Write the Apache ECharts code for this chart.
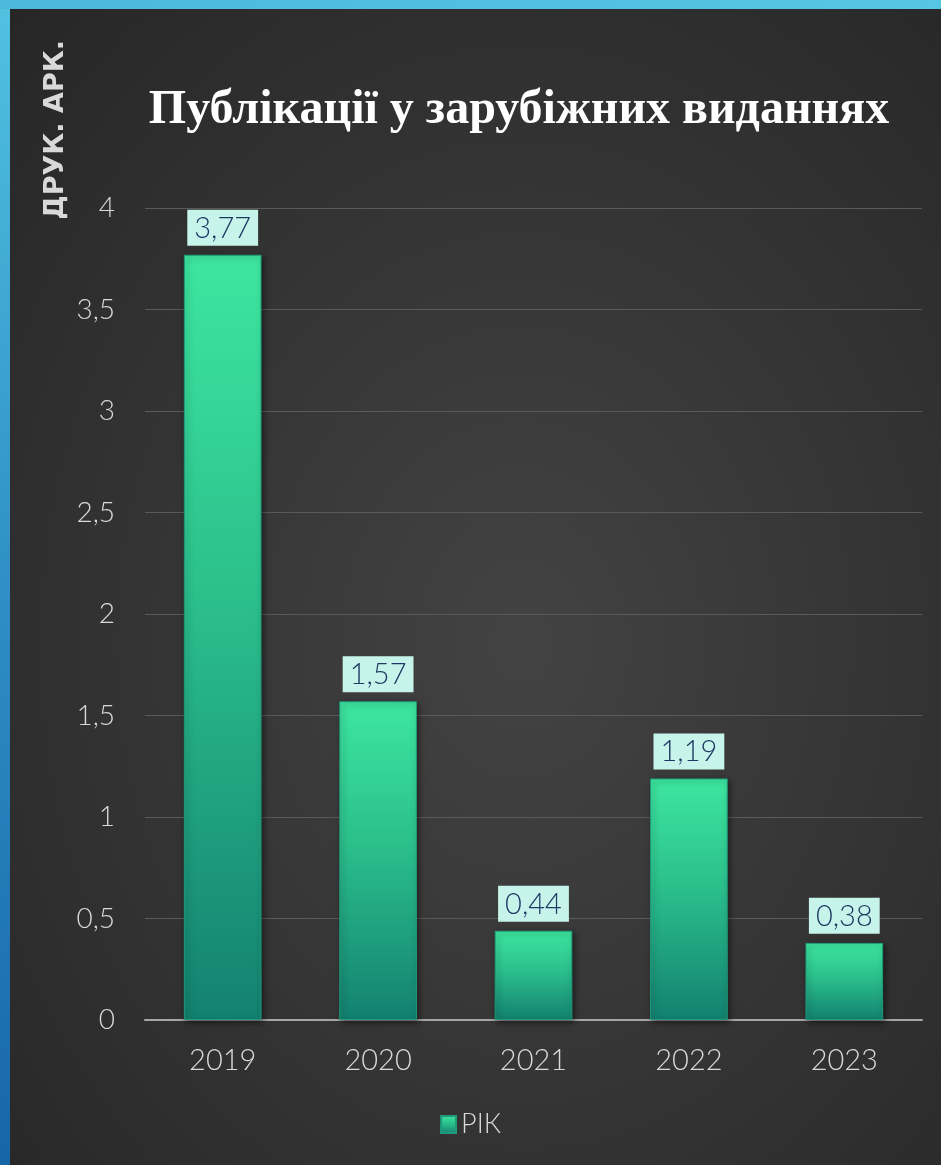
<!DOCTYPE html>
<html><head><meta charset="utf-8">
<script src="https://cdn.jsdelivr.net/npm/echarts@6/dist/echarts.min.js"></script>
<style>
html,body{margin:0;padding:0;width:941px;height:1165px;overflow:hidden;background:#2b2b2b;}
#frame{position:absolute;left:0;top:0;width:941px;height:1165px;
background:linear-gradient(180deg,#50c2e0 0%,#2f8fc6 50%,#1766a6 100%);}
#inner{position:absolute;left:10px;top:9px;right:0;bottom:0;
background:radial-gradient(ellipse at 55% 55%,#434343 0%,#333 55%,#262626 100%);}
#topbar{position:absolute;left:0;top:0;width:941px;height:9px;background:linear-gradient(90deg,#4bb8dc,#55c6e4);}
#chart{position:absolute;left:0;top:0;width:941px;height:1165px;}
</style></head>
<body>
<div id="frame"></div><div id="topbar"></div><div id="inner"></div>
<div id="chart"></div>
<script>
const categories = ['2019','2020','2021','2022','2023'];
const values = [3.77, 1.57, 0.44, 1.19, 0.38];
const yTicks = [0, 0.5, 1, 1.5, 2, 2.5, 3, 3.5, 4];
const seriesName = 'РІК';
const titleText = 'Публікації у зарубіжних виданнях';
const yName = 'ДРУК. АРК.';

const fmt = v => String(v).replace('.', ',');
const barGrad = new echarts.graphic.LinearGradient(0,0,0,1,[
  {offset:0,color:'#3de6a0'},{offset:0.45,color:'#2bbf8c'},{offset:1,color:'#138170'}]);
const chart = echarts.init(document.getElementById('chart'), null, {renderer:'canvas'});
chart.setOption({
  backgroundColor:'transparent',
  title:{text:titleText,left:514,top:82,textAlign:'center',
    textStyle:{fontFamily:'Liberation Serif',fontWeight:'bold',fontSize:48,color:'#ffffff'}},
  graphic:[{type:'text',left:42,top:40,rotation:Math.PI/2,
    style:{text:yName,fill:'#d9d9d9',font:'bold 27px "DejaVu Sans"',textAlign:'right',textVerticalAlign:'top'}}],
  grid:{left:145,right:19,top:208,bottom:145},
  legend:{bottom:22,left:'center',itemWidth:15,itemHeight:17,itemGap:7,
    data:[{name:seriesName,icon:'rect'}],
    textStyle:{color:'#d9d9d9',fontSize:27,fontFamily:'Lato',fontWeight:300}},
  xAxis:{type:'category',data:categories,
    axisLine:{lineStyle:{color:'#a6a6a6',width:2}},axisTick:{show:false},
    axisLabel:{color:'#d9d9d9',fontSize:29,fontFamily:'Lato',fontWeight:300,margin:26}},
  yAxis:{type:'value',min:0,max:4,interval:0.5,
    axisLine:{show:false},axisTick:{show:false},
    splitLine:{lineStyle:{color:'#5a5a5a',width:1}},
    axisLabel:{color:'#d9d9d9',fontSize:28,fontFamily:'Lato',fontWeight:300,margin:30,
      formatter:v=>fmt(v)}},
  series:[{name:seriesName,type:'bar',barWidth:'50%',data:values,
    itemStyle:{color:barGrad,borderColor:'#1f9a7a',borderWidth:1,
      shadowColor:'rgba(0,0,0,0.5)',shadowBlur:6,shadowOffsetX:2,shadowOffsetY:2},
    label:{show:true,position:'top',distance:9,formatter:p=>fmt(p.value),
      color:'#1f3864',fontSize:29,fontFamily:'Lato',fontWeight:300,backgroundColor:'#c6f4ea',
      padding:[4,7,3,7]}}]
});
</script>
</body></html>
